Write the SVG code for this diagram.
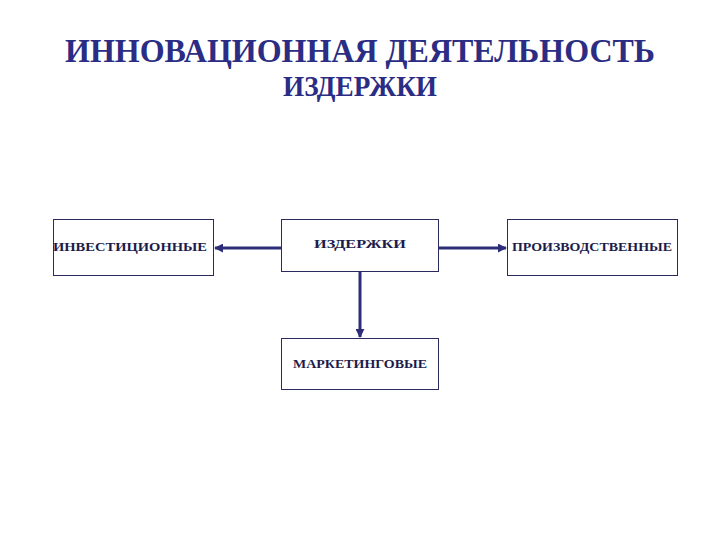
<svg xmlns="http://www.w3.org/2000/svg" width="720" height="540" viewBox="0 0 720 540">
<defs>
<style>
.title{font-family:'Liberation Serif','DejaVu Serif',serif;font-weight:bold;fill:#2b2d84;text-anchor:middle}
.t1{font-size:33px}
.t2{font-size:30px}
.box{fill:#ffffff;stroke:#2a2a5c;stroke-width:1}
.lbl{font-family:'Liberation Serif','DejaVu Serif',serif;font-weight:bold;font-size:11.5px;fill:#1c1c4a;text-anchor:middle}
.big{font-size:13px}
.conn{stroke:#2e2e78;stroke-width:3;fill:none}
</style>
<marker id="ah" viewBox="0 0 10 10" refX="9" refY="5" markerWidth="3" markerHeight="3" orient="auto">
<path d="M0,0 L10,5 L0,10 Z" fill="#2e2e78"/>
</marker>
</defs>
<rect width="720" height="540" fill="#ffffff"/>
<g id="title">
<text class="title t1" x="360" y="62" textLength="590" lengthAdjust="spacingAndGlyphs">ИННОВАЦИОННАЯ ДЕЯТЕЛЬНОСТЬ</text>
<text class="title t2" x="360" y="96" textLength="154" lengthAdjust="spacingAndGlyphs">ИЗДЕРЖКИ</text>
</g>
<g id="connectors">
<line class="conn" x1="281" y1="248" x2="215" y2="248" marker-end="url(#ah)"/>
<line class="conn" x1="439" y1="248" x2="506" y2="248" marker-end="url(#ah)"/>
<line class="conn" x1="360" y1="271" x2="360" y2="337" marker-end="url(#ah)"/>
</g>
<g id="node-investment">
<rect class="box" x="53.5" y="219.5" width="160" height="56"/>
<text class="lbl" x="130" y="251" textLength="154" lengthAdjust="spacingAndGlyphs">ИНВЕСТИЦИОННЫЕ</text>
</g>
<g id="node-costs">
<rect class="box" x="281.5" y="219.5" width="157" height="52"/>
<text class="lbl big" x="360" y="248" textLength="92" lengthAdjust="spacingAndGlyphs">ИЗДЕРЖКИ</text>
</g>
<g id="node-production">
<rect class="box" x="507.5" y="219.5" width="170" height="56"/>
<text class="lbl" x="592" y="251" textLength="160" lengthAdjust="spacingAndGlyphs">ПРОИЗВОДСТВЕННЫЕ</text>
</g>
<g id="node-marketing">
<rect class="box" x="281.5" y="338.5" width="157" height="51"/>
<text class="lbl" x="360" y="368" textLength="134" lengthAdjust="spacingAndGlyphs">МАРКЕТИНГОВЫЕ</text>
</g>
</svg>
